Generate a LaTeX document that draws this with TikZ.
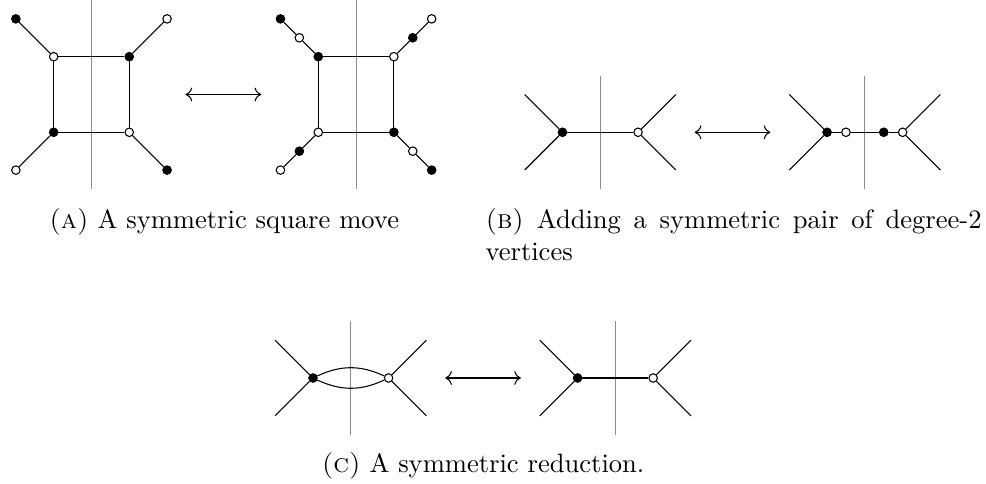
\documentclass[tikz,border=0pt]{standalone}
\usepackage{tikz}
\usetikzlibrary{arrows.meta,positioning}
\tikzset{
  blackv/.style={circle,draw=black,fill=black,inner sep=0pt,minimum size=3.2pt},
  whitev/.style={circle,draw=black,fill=white,inner sep=0pt,minimum size=3.2pt},
  mirror/.style={draw=black!45,line width=0.4pt},
  gedge/.style={draw=black,line width=0.4pt},
  movearr/.style={<->,line width=0.4pt},
  capt/.style={inner sep=0pt,font=\normalsize}
}

\begin{document}
\begin{tikzpicture}[x=0.5cm,y=0.5cm]
  \useasboundingbox (0,0) rectangle (26.085,-12.804);

  % (a) square move, left side
  \draw[mirror] (2.42,0) -- (2.42,-5);
  \node[whitev] (aTL) at (1.42,-1.5) {};
  \node[blackv] (aTR) at (3.42,-1.5) {};
  \node[blackv] (aBL) at (1.42,-3.5) {};
  \node[whitev] (aBR) at (3.42,-3.5) {};
  \node[blackv] (aoTL) at (0.42,-0.5) {};
  \node[whitev] (aoTR) at (4.42,-0.5) {};
  \node[whitev] (aoBL) at (0.42,-4.5) {};
  \node[blackv] (aoBR) at (4.42,-4.5) {};
  \draw[gedge] (aTL) -- (aTR) -- (aBR) -- (aBL) -- (aTL);
  \draw[gedge] (aTL) -- (aoTL);
  \draw[gedge] (aTR) -- (aoTR);
  \draw[gedge] (aBL) -- (aoBL);
  \draw[gedge] (aBR) -- (aoBR);

  \coordinate (arrAl) at (4.91,-2.5);
  \coordinate (arrAr) at (6.91,-2.5);
  \draw[movearr] (arrAl) -- (arrAr);

  % (a) square move, right side
  \draw[mirror] (9.42,0) -- (9.42,-5);
  \node[blackv] (sTL) at (8.42,-1.5) {};
  \node[whitev] (sTR) at (10.42,-1.5) {};
  \node[whitev] (sBL) at (8.42,-3.5) {};
  \node[blackv] (sBR) at (10.42,-3.5) {};
  \node[blackv] (soTL) at (7.42,-0.5) {};
  \node[whitev] (smTL) at (7.92,-1.0) {};
  \node[whitev] (soTR) at (11.42,-0.5) {};
  \node[blackv] (smTR) at (10.92,-1.0) {};
  \node[whitev] (soBL) at (7.42,-4.5) {};
  \node[blackv] (smBL) at (7.92,-4.0) {};
  \node[blackv] (soBR) at (11.42,-4.5) {};
  \node[whitev] (smBR) at (10.92,-4.0) {};
  \draw[gedge] (sTL) -- (sTR) -- (sBR) -- (sBL) -- (sTL);
  \draw[gedge] (sTL) -- (smTL) -- (soTL);
  \draw[gedge] (sTR) -- (smTR) -- (soTR);
  \draw[gedge] (sBL) -- (smBL) -- (soBL);
  \draw[gedge] (sBR) -- (smBR) -- (soBR);

  \node[capt,anchor=base] (captA) at (5.93,-6.04)
      {{\scshape(a)} A symmetric square move};

  % (b) degree-2 pair, left side
  \draw[mirror] (15.88,-2) -- (15.88,-5);
  \node[blackv] (bB) at (14.88,-3.5) {};
  \node[whitev] (bW) at (16.88,-3.5) {};
  \coordinate (bl1) at (13.88,-2.5);
  \coordinate (bl2) at (13.88,-4.5);
  \coordinate (br1) at (17.88,-2.5);
  \coordinate (br2) at (17.88,-4.5);
  \draw[gedge] (bl1) -- (bB) -- (bl2);
  \draw[gedge] (br1) -- (bW) -- (br2);
  \draw[gedge] (bB) -- (bW);

  \coordinate (arrBl) at (18.38,-3.5);
  \coordinate (arrBr) at (20.38,-3.5);
  \draw[movearr] (arrBl) -- (arrBr);

  % (b) degree-2 pair, right side
  \draw[mirror] (22.88,-2) -- (22.88,-5);
  \node[blackv] (pB1) at (21.88,-3.5) {};
  \node[whitev] (pW1) at (22.38,-3.5) {};
  \node[blackv] (pB2) at (23.38,-3.5) {};
  \node[whitev] (pW2) at (23.88,-3.5) {};
  \coordinate (pl1) at (20.88,-2.5);
  \coordinate (pl2) at (20.88,-4.5);
  \coordinate (pr1) at (24.88,-2.5);
  \coordinate (pr2) at (24.88,-4.5);
  \draw[gedge] (pl1) -- (pB1) -- (pl2);
  \draw[gedge] (pr1) -- (pW2) -- (pr2);
  \draw[gedge] (pB1) -- (pW1) -- (pB2) -- (pW2);

  \node[capt,anchor=base west,text width=186.7pt,align=justify] (captB)
      at (12.83,-6.04)
      {{\scshape(b)} Adding a symmetric pair of degree-2 vertices};

  % (c) reduction, left side
  \draw[mirror] (9.28,-8.5) -- (9.28,-11.5);
  \node[blackv] (cB) at (8.28,-10) {};
  \node[whitev] (cW) at (10.28,-10) {};
  \coordinate (cl1) at (7.28,-9);
  \coordinate (cl2) at (7.28,-11);
  \coordinate (cr1) at (11.28,-9);
  \coordinate (cr2) at (11.28,-11);
  \draw[gedge] (cl1) -- (cB) -- (cl2);
  \draw[gedge] (cr1) -- (cW) -- (cr2);
  \draw[gedge] (cB) to[bend left=25] (cW);
  \draw[gedge] (cB) to[bend right=25] (cW);

  \coordinate (arrCl) at (11.78,-10);
  \coordinate (arrCr) at (13.78,-10);
  \draw[movearr] (arrCl) -- (arrCr);

  % (c) reduction, right side
  \draw[mirror] (16.28,-8.5) -- (16.28,-11.5);
  \node[blackv] (rB) at (15.28,-10) {};
  \node[whitev] (rW) at (17.28,-10) {};
  \coordinate (rl1) at (14.28,-9);
  \coordinate (rl2) at (14.28,-11);
  \coordinate (rr1) at (18.28,-9);
  \coordinate (rr2) at (18.28,-11);
  \draw[gedge] (rl1) -- (rB) -- (rl2);
  \draw[gedge] (rr1) -- (rW) -- (rr2);
  \draw[gedge] (rB) -- (rW);

  \node[capt,anchor=base] (captC) at (12.78,-12.49)
      {{\scshape(c)} A symmetric reduction.};

\end{tikzpicture}
\end{document}
